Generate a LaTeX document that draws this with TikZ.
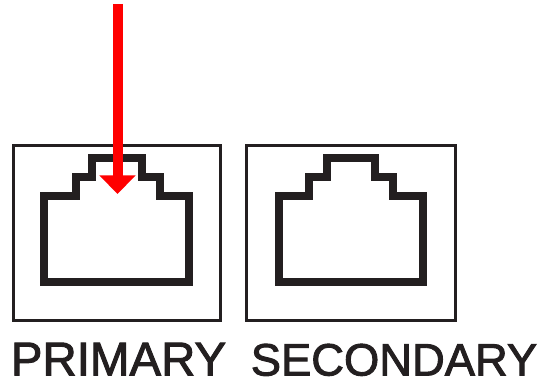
\documentclass[tikz,border=0pt]{standalone}
\usepackage{fontspec}
\setmainfont[FakeBold=2]{Liberation Sans}
\usetikzlibrary{arrows.meta}
\definecolor{jackblack}{HTML}{231F20}
\tikzset{
	frameline/.style={draw=jackblack, line width=0.06cm, line join=miter},
	jackline/.style={draw=jackblack, line width=0.16cm, line join=miter},
	portlabel/.style={anchor=base, text=jackblack, inner sep=0pt},
	redarrow/.style={red, line width=0.2cm, -{Triangle[length=0.37cm, width=0.7cm]}}
}
\begin{document}
\begin{tikzpicture}
	\useasboundingbox (0,0) rectangle (10.82,7.6);
	\draw [frameline] (0.27,1.18) rectangle (4.41,4.69);
	\draw [frameline] (4.92,1.18) rectangle (9.10,4.69);
	\draw [jackline] (0.88,1.96)--(0.88,3.67)--(1.52,3.67)--(1.52,4.06)--(1.84,4.06)--(1.84,4.43)--(2.84,4.43)--(2.84,4.06)--(3.20,4.06)--(3.20,3.67)--(3.77,3.67)--(3.77,1.96)--cycle;
	\draw [jackline] (5.57,1.96)--(5.57,3.67)--(6.17,3.67)--(6.17,4.06)--(6.54,4.06)--(6.54,4.43)--(7.50,4.43)--(7.50,4.06)--(7.86,4.06)--(7.86,3.67)--(8.46,3.67)--(8.46,1.96)--cycle;
	\node [portlabel, font=\fontsize{27}{30}\selectfont] (primary) at (2.37,0.09) {PRIMARY};
	\node [portlabel, font=\fontsize{25.8}{30}\selectfont] (secondary) at (7.88,0.09) {SECONDARY};
	\coordinate (arrowstart) at (2.35,7.52);
	\coordinate (arrowtip) at (2.35,3.72);
	\draw [redarrow] (arrowstart)--(arrowtip);
\end{tikzpicture}
\end{document}
